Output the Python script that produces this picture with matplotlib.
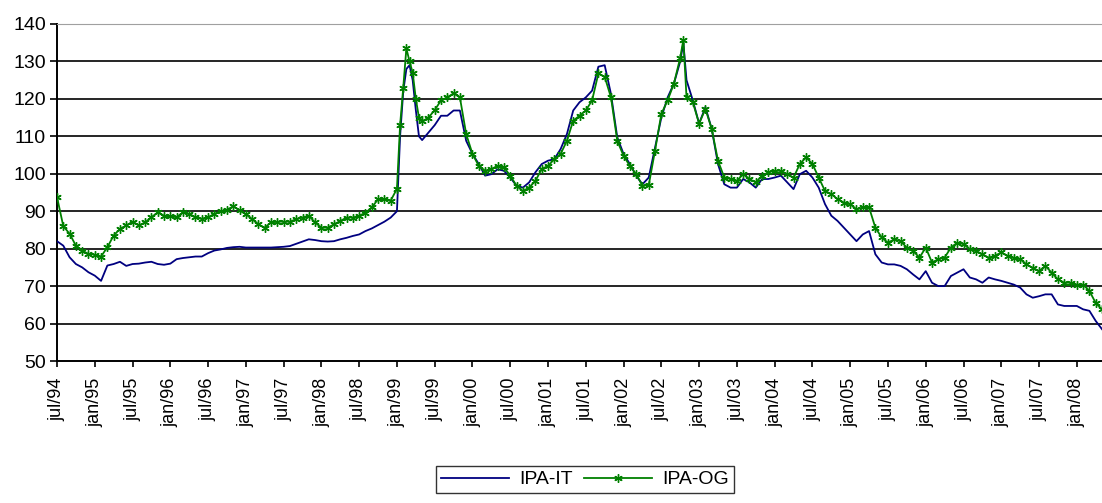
import matplotlib
matplotlib.use('Agg')
import matplotlib.pyplot as plt

plt.rcParams['font.family'] = ['Liberation Sans', 'DejaVu Sans']

# meses desde jul/94 (0 = jul/94); alguns pontos extras nos picos
meses = list(range(0, 167))
ipa_it = [
    82.0, 80.8, 77.7, 75.9, 75.0, 73.7, 72.8, 71.4, 75.5, 75.9, 76.5, 75.4,   # jul94-jun95
    75.9, 76.0, 76.3, 76.5, 75.9, 75.7, 76.0, 77.2, 77.5, 77.7, 77.9, 77.9,   # jul95-jun96
    78.8, 79.5, 79.8, 80.2, 80.4, 80.5, 80.3, 80.3, 80.3, 80.3, 80.3, 80.4,   # jul96-jun97
    80.5, 80.7, 81.3, 81.9, 82.5, 82.3, 82.0, 81.9, 82.0, 82.5, 82.9, 83.4,   # jul97-jun98
    83.8, 84.7, 85.4, 86.3, 87.2, 88.3, 90.0, 122.0, 129.0, 117.0, 109.0, 111.0,  # jul98-jun99
    113.0, 115.5, 115.5, 116.9, 116.9, 108.8, 105.3, 102.6, 99.5, 99.9, 101.2, 100.8,  # jul99-jun00
    99.0, 96.8, 96.3, 97.7, 100.4, 102.6, 103.5, 103.9, 106.6, 110.6, 116.9, 119.1,  # jul00-jun01
    120.4, 122.2, 128.6, 129.0, 121.3, 109.7, 105.3, 102.6, 99.5, 97.2, 99.0, 107.0,  # jul01-jun02
    115.0, 120.4, 124.1, 130.0, 125.0, 119.6, 113.4, 117.8, 112.0, 102.6, 97.2, 96.3,  # jul02-jun03
    96.3, 98.6, 97.7, 96.3, 98.6, 98.6, 99.0, 99.5, 97.7, 95.9, 99.9, 100.8,  # jul03-jun04
    99.0, 96.3, 91.9, 88.8, 87.4, 85.6, 83.8, 82.0, 83.8, 84.7, 78.5, 76.3,   # jul04-jun05
    75.8, 75.8, 75.4, 74.5, 73.1, 71.8, 74.0, 70.9, 70.0, 70.0, 72.7, 73.6,   # jul05-jun06
    74.5, 72.3, 71.8, 70.9, 72.3, 71.8, 71.4, 70.9, 70.4, 69.6, 67.8, 66.9,   # jul06-jun07
    67.3, 67.8, 67.8, 65.1, 64.7, 64.7, 64.7, 63.8, 63.4, 60.7, 58.5,         # jul07-mai08
]
ipa_og = [
    93.8, 86.0, 84.0, 80.8, 79.5, 78.6, 78.4, 77.9, 80.4, 83.5, 85.3, 86.2,
    87.2, 86.2, 87.0, 88.4, 89.7, 88.8, 88.6, 88.4, 89.7, 89.3, 88.4, 88.0,
    88.4, 89.3, 90.0, 90.4, 91.3, 90.2, 89.2, 87.9, 86.5, 85.6, 87.0, 87.2,
    87.2, 87.2, 87.9, 88.3, 88.8, 87.0, 85.6, 85.6, 86.5, 87.4, 88.3, 88.3,
    88.8, 89.6, 91.0, 93.2, 93.2, 92.8, 96.0, 123.0, 130.0, 120.0, 114.0, 115.0,
    117.0, 119.6, 120.4, 121.5, 120.4, 110.6, 105.3, 102.1, 100.8, 101.3, 102.1, 101.7,
    99.5, 96.8, 95.4, 96.3, 98.1, 101.3, 102.1, 103.9, 105.3, 108.8, 114.2, 115.5,
    116.9, 119.6, 126.8, 125.9, 120.4, 108.8, 104.8, 102.1, 99.9, 96.8, 97.0, 106.2,
    116.0, 119.6, 124.1, 131.0, 120.4, 119.1, 113.4, 117.3, 112.0, 103.5, 99.0, 98.6,
    98.1, 99.9, 98.6, 97.7, 99.5, 100.4, 100.8, 100.8, 99.9, 99.0, 102.6, 104.4,
    102.6, 99.0, 95.4, 94.6, 93.2, 92.3, 91.9, 90.5, 91.0, 91.0, 85.6, 83.0,
    81.6, 82.5, 82.0, 80.3, 79.4, 77.6, 80.3, 76.3, 77.2, 77.6, 80.3, 81.6,
    81.2, 79.9, 79.4, 78.5, 77.6, 78.1, 79.0, 78.1, 77.6, 77.2, 75.8, 74.9,
    74.0, 75.4, 73.6, 71.8, 70.9, 70.9, 70.4, 70.4, 68.7, 65.5, 63.8,
]

# picos semanais entre os meses
picos_mes = [54.5, 55.5, 56.5, 57.5, 99.5]
picos_it = [110.0, 128.0, 125.0, 110.0, 135.0]
picos_og = [113.0, 133.5, 127.0, 115.0, 135.8]

rotulos = []
for ano in range(94, 109):
    rotulos.append('jan/%02d' % (ano % 100))
    rotulos.append('jul/%02d' % (ano % 100))
rotulos = rotulos[1:-1]  # jul/94 ... jan/08

# junta os pontos mensais com os picos
pontos = sorted(zip(meses + picos_mes, ipa_it + picos_it, ipa_og + picos_og))
x = [p[0] for p in pontos]
y_it = [p[1] for p in pontos]
y_og = [p[2] for p in pontos]

fig = plt.figure(figsize=(11.02, 5.03), dpi=100)
ax = fig.add_axes([57 / 1102, 1 - 361 / 503, 1 - 57 / 1102, (361 - 24) / 503])

ax.plot(x, y_it, color='#000080', linewidth=1.3, label='IPA-IT', zorder=3)
ax.plot(x, y_og, color='#008000', linewidth=1.3, marker=(6, 2, 0), markersize=6,
        markeredgewidth=1.0, label='IPA-OG', zorder=4)

ax.set_ylim(50, 140)
ax.set_yticks(range(50, 141, 10))
ax.set_xlim(0, 166)
ax.set_xticks(range(0, 6 * len(rotulos), 6))
ax.set_xticklabels(rotulos, rotation=90, fontsize=13)
ax.tick_params(axis='y', labelsize=14, length=5, width=1.2, direction='out', pad=3)
ax.tick_params(axis='x', length=4, width=1.2, direction='out', pad=8)

for v in range(60, 140, 10):
    ax.axhline(v, color='black', linewidth=1.2, zorder=1)

ax.spines['top'].set_color('#a0a0a0')
ax.spines['right'].set_visible(False)
ax.spines['left'].set_linewidth(1.4)
ax.spines['bottom'].set_linewidth(1.4)

leg = fig.legend(loc='lower center', bbox_to_anchor=(585 / 1102, 0.0), ncol=2,
                 fontsize=14, frameon=True, fancybox=False, edgecolor='black',
                 handlelength=3.5, columnspacing=0.6, borderpad=0.25,
                 handletextpad=0.5)
leg.get_frame().set_linewidth(1.0)

fig.savefig('out.png', dpi=100)
